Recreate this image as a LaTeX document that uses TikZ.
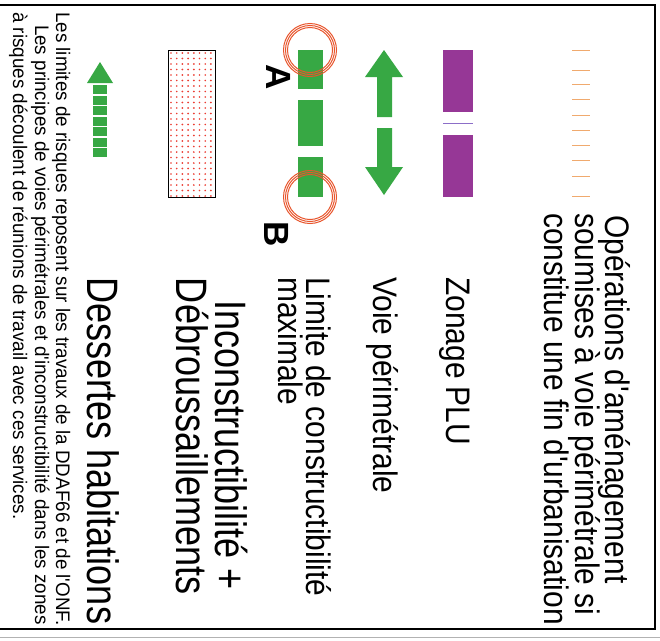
\documentclass[tikz,border=0pt]{standalone}
\usepackage{fontspec}
\setmainfont{Liberation Sans}
\newfontfamily\labfont[FakeStretch=0.88]{Liberation Sans}
\newfontfamily\bigfont[FakeStretch=0.82]{Liberation Sans}
\newfontfamily\notefont[FakeStretch=0.96]{Liberation Sans}
\definecolor{gr}{RGB}{55,168,68}
\definecolor{pu}{RGB}{150,55,150}
\definecolor{orc}{RGB}{232,85,45}
\definecolor{dashc}{RGB}{240,170,110}
\definecolor{dotc}{RGB}{235,60,50}
\definecolor{sepc}{RGB}{140,110,200}
\tikzset{
  lbl/.style={rotate=-90, anchor=base west, inner sep=0pt, font=\labfont\fontsize{34}{36}\selectfont},
  big/.style={rotate=-90, anchor=base west, inner sep=0pt, font=\bigfont\fontsize{44}{46}\selectfont},
  note/.style={rotate=-90, anchor=base west, inner sep=0pt, font=\notefont\fontsize{19.6}{21}\selectfont},
  letter/.style={rotate=-90, anchor=base, inner sep=0pt, font=\bfseries\fontsize{35}{36}\selectfont},
  ring/.style={draw=orc, line width=1pt},
}
\begin{document}
\begin{tikzpicture}[x=1pt,y=-1pt]
\useasboundingbox (0,0) rectangle (660,640);
\fill[white] (0,0) rectangle (660,640);
% frame
\draw[line width=1.1pt] (0,5) -- (655,5) -- (655,629) -- (0,629);
\draw[gray!60, line width=0.8pt] (0,637) -- (660,637);

% legend 1: orange dashes
\foreach \yy in {50,70,84,99,115,130,145,160,176,196}
  \draw[dashc, line width=0.8pt] (572,\yy) -- (590,\yy);
\node[lbl] (t1a) at (605,215) {Opérations d'aménagement};
\node[lbl] (t1b) at (575,213) {soumises à voie périmétrale si};
\node[lbl] (t1c) at (544,213) {constitue une fin d'urbanisation};

% legend 2: purple zoning
\fill[pu] (443,50) rectangle (473,112);
\fill[pu] (443,135) rectangle (473,197);
\draw[sepc, line width=0.6pt] (443,123) -- (473,123);
\node[lbl] (t2) at (446,277) {Zonage PLU};

% legend 3: green double arrow
\fill[gr] (384,50) -- (403,77) -- (392,77) -- (392,117) -- (377,117) -- (377,77) -- (365,77) -- cycle;
\fill[gr] (384,195) -- (403,167) -- (392,167) -- (392,128) -- (377,128) -- (377,167) -- (365,167) -- cycle;
\node[lbl] (t3) at (373,277) {Voie périmétrale};

% legend 4: limit of constructibility
\fill[gr] (298,50) rectangle (323,89);
\fill[gr] (298,100) rectangle (323,146);
\fill[gr] (298,157) rectangle (323,197);
\foreach \r in {22.5,24.5,26.5} {
  \draw[ring] (310,50) circle (\r);
  \draw[ring] (310,197) circle (\r);
}
\node[letter] (A) at (266,77) {A};
\node[letter] (B) at (264,234) {B};
\node[lbl] (t4a) at (306,277) {Limite de constructibilité};
\node[lbl] (t4b) at (278,277) {maximale};

% legend 5: dotted rectangle
\fill[white] (168,50) rectangle (215,197);
\foreach \i in {0,...,7}
  \foreach \j in {0,...,26}
    \fill[dotc] (171+5.7*\i,53+5.5*\j) circle (0.95);
\draw[line width=0.9pt] (168,50) rectangle (215,197);
\node[big, anchor=base east] (t5a) at (215,590) {Inconstructibilité +};
\node[big, anchor=base east] (t5b) at (176,595) {Débroussaillements};

% legend 6: small dashed arrow
\fill[gr] (100,62) -- (113,83) -- (87,83) -- cycle;
\foreach \k in {0,...,6}
  \fill[gr] (93,85+10.5*\k) rectangle (107,94+10.5*\k);
\node[big] (t6) at (87,277) {Dessertes habitations};

% footnote
\node[note] (n1) at (56,12) {Les limites de risques reposent sur les travaux de la DDAF66 et de l'ONF.};
\node[note, anchor=base east] (n2) at (35,625) {Les principes de voies périmétrales et d'inconstructibilité dans les zones};
\node[note] (n3) at (13,12) {à risques découlent de réunions de travail avec ces services.};
\end{tikzpicture}
\end{document}
